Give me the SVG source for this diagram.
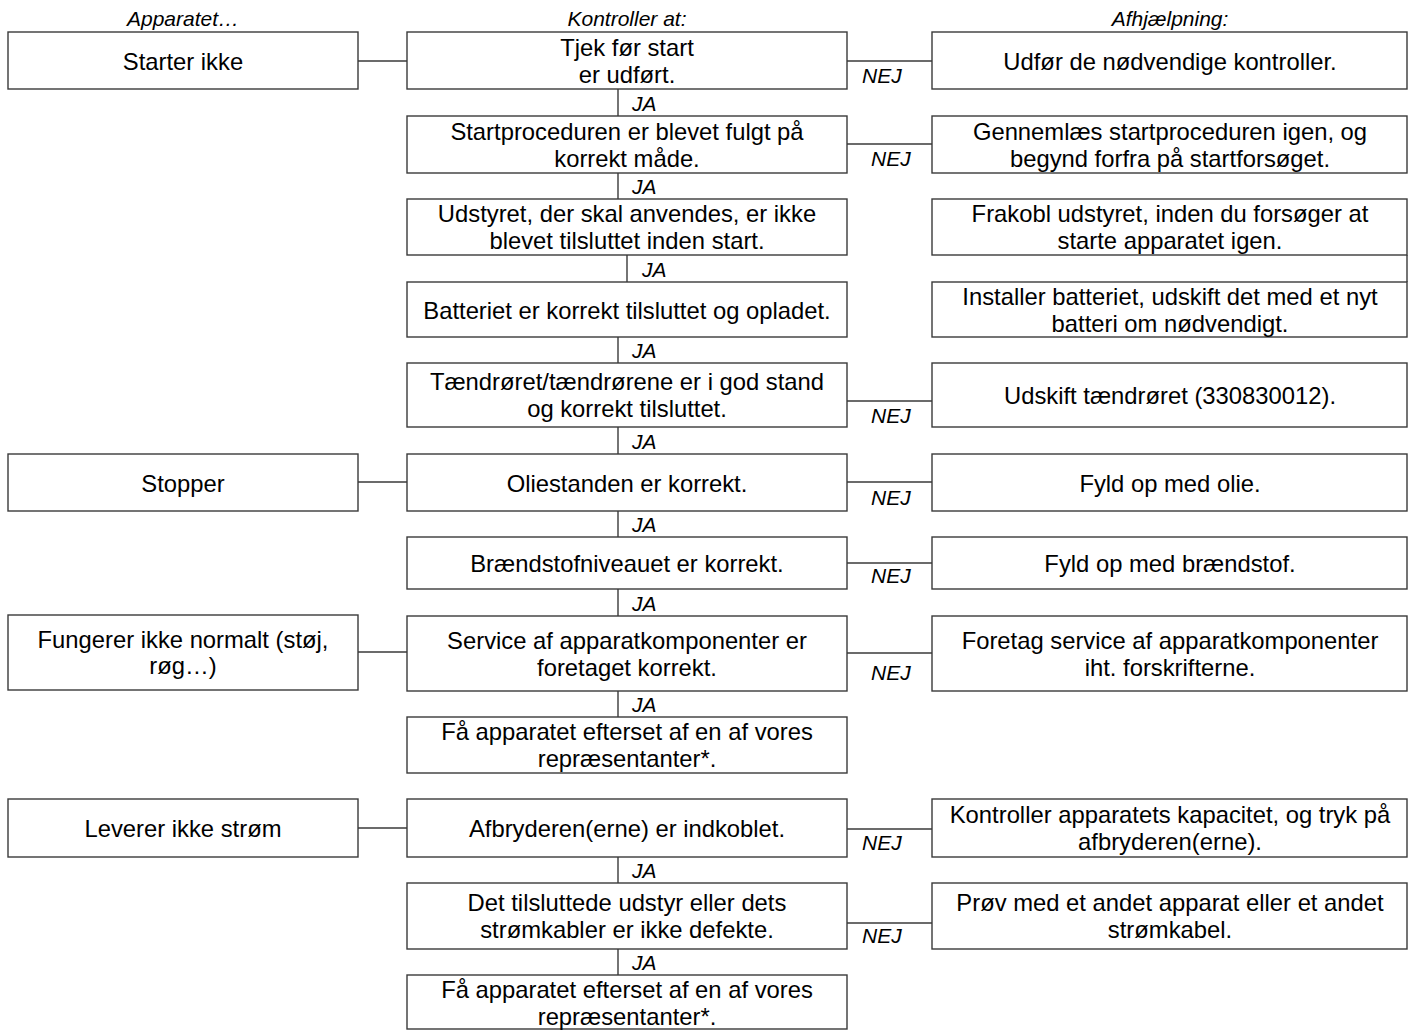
<svg xmlns="http://www.w3.org/2000/svg" width="1413" height="1030" viewBox="0 0 1413 1030">
<style>
.b{fill:#fff;stroke:#3a3a3a;stroke-width:1.4}
.c{stroke:#3a3a3a;stroke-width:1.4;fill:none}
.t{font-family:"Liberation Sans",Arial,sans-serif;font-size:23.8px;fill:#000;text-anchor:middle}
.h{font-family:"Liberation Sans",Arial,sans-serif;font-size:21px;font-style:italic;fill:#000;text-anchor:middle}
.l{font-family:"Liberation Sans",Arial,sans-serif;font-size:21px;font-style:italic;fill:#000}
</style>
<rect width="1413" height="1030" fill="#fff"/>
<g id="headers">
<text class="h" x="183" y="26">Apparatet…</text>
<text class="h" x="627" y="26">Kontroller at:</text>
<text class="h" x="1170" y="26">Afhjælpning:</text>
</g>
<g id="connectors">
<line class="c" x1="358" y1="61" x2="407" y2="61"/>
<line class="c" x1="358" y1="482" x2="407" y2="482"/>
<line class="c" x1="358" y1="652" x2="407" y2="652"/>
<line class="c" x1="358" y1="828" x2="407" y2="828"/>
<line class="c" x1="847" y1="61" x2="932" y2="61"/>
<line class="c" x1="847" y1="144" x2="932" y2="144"/>
<line class="c" x1="847" y1="401" x2="932" y2="401"/>
<line class="c" x1="847" y1="482" x2="932" y2="482"/>
<line class="c" x1="847" y1="563" x2="932" y2="563"/>
<line class="c" x1="847" y1="653" x2="932" y2="653"/>
<line class="c" x1="847" y1="829" x2="932" y2="829"/>
<line class="c" x1="847" y1="923" x2="932" y2="923"/>
<line class="c" x1="618" y1="89" x2="618" y2="116"/>
<line class="c" x1="618" y1="173" x2="618" y2="199"/>
<line class="c" x1="627" y1="255" x2="627" y2="282"/>
<line class="c" x1="618" y1="337" x2="618" y2="363"/>
<line class="c" x1="618" y1="427" x2="618" y2="454"/>
<line class="c" x1="618" y1="511" x2="618" y2="537"/>
<line class="c" x1="618" y1="589" x2="618" y2="616"/>
<line class="c" x1="618" y1="691" x2="618" y2="717"/>
<line class="c" x1="618" y1="857" x2="618" y2="883"/>
<line class="c" x1="618" y1="949" x2="618" y2="975"/>
<line class="c" x1="1407" y1="255" x2="1407" y2="282"/>
<text class="l" x="862" y="83">NEJ</text>
<text class="l" x="871" y="166">NEJ</text>
<text class="l" x="871" y="423">NEJ</text>
<text class="l" x="871" y="505">NEJ</text>
<text class="l" x="871" y="583">NEJ</text>
<text class="l" x="871" y="680">NEJ</text>
<text class="l" x="862" y="850">NEJ</text>
<text class="l" x="862" y="943">NEJ</text>
<text class="l" x="632" y="111">JA</text>
<text class="l" x="632" y="194">JA</text>
<text class="l" x="642" y="277">JA</text>
<text class="l" x="632" y="358">JA</text>
<text class="l" x="632" y="449">JA</text>
<text class="l" x="632" y="532">JA</text>
<text class="l" x="632" y="611">JA</text>
<text class="l" x="632" y="712">JA</text>
<text class="l" x="632" y="878">JA</text>
<text class="l" x="632" y="970">JA</text>
</g>
<g id="L1"><rect class="b" x="8" y="32" width="350" height="57"/><text class="t" x="183" y="69.5">Starter ikke</text></g>
<g id="L6"><rect class="b" x="8" y="454" width="350" height="57"/><text class="t" x="183" y="491.5">Stopper</text></g>
<g id="L8"><rect class="b" x="8" y="615" width="350" height="75"/><text class="t" x="183" y="647.5">Fungerer ikke normalt (støj,</text><text class="t" x="183" y="674">røg…)</text></g>
<g id="L10"><rect class="b" x="8" y="799" width="350" height="58"/><text class="t" x="183" y="837">Leverer ikke strøm</text></g>

<g id="M1"><rect class="b" x="407" y="32" width="440" height="57"/><text class="t" x="627" y="55.5">Tjek før start</text><text class="t" x="627" y="82.5">er udført.</text></g>
<g id="M2"><rect class="b" x="407" y="116" width="440" height="57"/><text class="t" x="627" y="139.5">Startproceduren er blevet fulgt på</text><text class="t" x="627" y="166.5">korrekt måde.</text></g>
<g id="M3"><rect class="b" x="407" y="199" width="440" height="56"/><text class="t" x="627" y="222">Udstyret, der skal anvendes, er ikke</text><text class="t" x="627" y="249">blevet tilsluttet inden start.</text></g>
<g id="M4"><rect class="b" x="407" y="282" width="440" height="55"/><text class="t" x="627" y="318.5">Batteriet er korrekt tilsluttet og opladet.</text></g>
<g id="M5"><rect class="b" x="407" y="363" width="440" height="64"/><text class="t" x="627" y="390">Tændrøret/tændrørene er i god stand</text><text class="t" x="627" y="417">og korrekt tilsluttet.</text></g>
<g id="M6"><rect class="b" x="407" y="454" width="440" height="57"/><text class="t" x="627" y="491.5">Oliestanden er korrekt.</text></g>
<g id="M7"><rect class="b" x="407" y="537" width="440" height="52"/><text class="t" x="627" y="572">Brændstofniveauet er korrekt.</text></g>
<g id="M8"><rect class="b" x="407" y="616" width="440" height="75"/><text class="t" x="627" y="648.5">Service af apparatkomponenter er</text><text class="t" x="627" y="675.5">foretaget korrekt.</text></g>
<g id="M9"><rect class="b" x="407" y="717" width="440" height="56"/><text class="t" x="627" y="740">Få apparatet efterset af en af vores</text><text class="t" x="627" y="767">repræsentanter*.</text></g>
<g id="M10"><rect class="b" x="407" y="799" width="440" height="58"/><text class="t" x="627" y="837">Afbryderen(erne) er indkoblet.</text></g>
<g id="M11"><rect class="b" x="407" y="883" width="440" height="66"/><text class="t" x="627" y="911">Det tilsluttede udstyr eller dets</text><text class="t" x="627" y="938">strømkabler er ikke defekte.</text></g>
<g id="M12"><rect class="b" x="407" y="975" width="440" height="54"/><text class="t" x="627" y="998">Få apparatet efterset af en af vores</text><text class="t" x="627" y="1025">repræsentanter*.</text></g>

<g id="R1"><rect class="b" x="932" y="32" width="475" height="57"/><text class="t" x="1170" y="69.5">Udfør de nødvendige kontroller.</text></g>
<g id="R2"><rect class="b" x="932" y="116" width="475" height="57"/><text class="t" x="1170" y="139.5">Gennemlæs startproceduren igen, og</text><text class="t" x="1170" y="166.5">begynd forfra på startforsøget.</text></g>
<g id="R3"><rect class="b" x="932" y="199" width="475" height="56"/><text class="t" x="1170" y="222">Frakobl udstyret, inden du forsøger at</text><text class="t" x="1170" y="249">starte apparatet igen.</text></g>
<g id="R4"><rect class="b" x="932" y="282" width="475" height="55"/><text class="t" x="1170" y="304.5">Installer batteriet, udskift det med et nyt</text><text class="t" x="1170" y="331.5">batteri om nødvendigt.</text></g>
<g id="R5"><rect class="b" x="932" y="363" width="475" height="64"/><text class="t" x="1170" y="404">Udskift tændrøret (330830012).</text></g>
<g id="R6"><rect class="b" x="932" y="454" width="475" height="57"/><text class="t" x="1170" y="491.5">Fyld op med olie.</text></g>
<g id="R7"><rect class="b" x="932" y="537" width="475" height="52"/><text class="t" x="1170" y="572">Fyld op med brændstof.</text></g>
<g id="R8"><rect class="b" x="932" y="616" width="475" height="75"/><text class="t" x="1170" y="648.5">Foretag service af apparatkomponenter</text><text class="t" x="1170" y="675.5">iht. forskrifterne.</text></g>
<g id="R10"><rect class="b" x="932" y="799" width="475" height="58"/><text class="t" x="1170" y="823">Kontroller apparatets kapacitet, og tryk på</text><text class="t" x="1170" y="850">afbryderen(erne).</text></g>
<g id="R11"><rect class="b" x="932" y="883" width="475" height="66"/><text class="t" x="1170" y="911">Prøv med et andet apparat eller et andet</text><text class="t" x="1170" y="938">strømkabel.</text></g>
</svg>
